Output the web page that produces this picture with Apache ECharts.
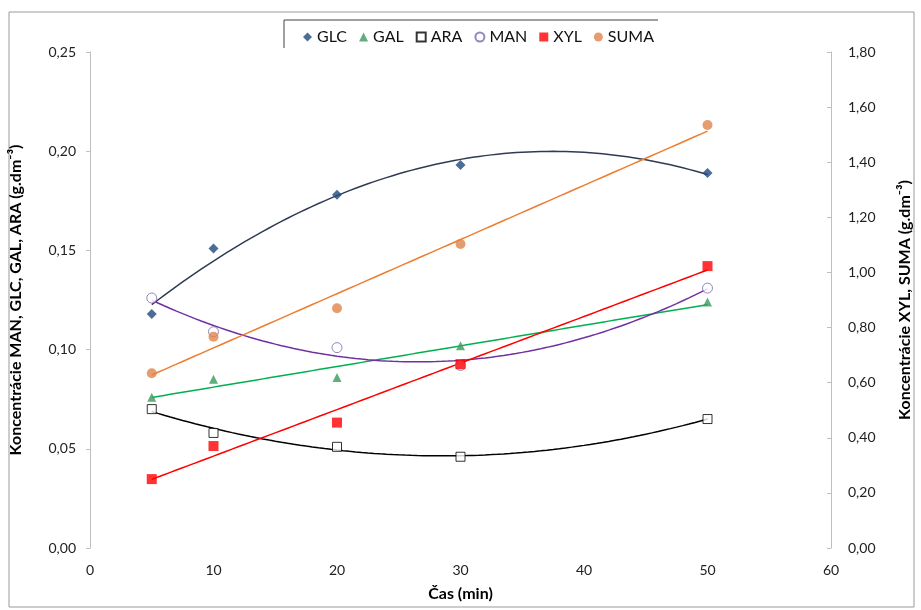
<!DOCTYPE html>
<html>
<head>
<meta charset="utf-8">
<script src="https://cdn.jsdelivr.net/npm/echarts@6/dist/echarts.min.js"></script>
<style>
  html, body { margin: 0; padding: 0; background: #fff; }
  #chart { width: 921px; height: 610px; }
</style>
</head>
<body>
<div id="chart"></div>
<script>
// time points (min)
const times = [5, 10, 20, 30, 50]

// left axis (g.dm-3)
const glc = [0.118, 0.151, 0.178, 0.193, 0.189]
const gal = [0.076, 0.085, 0.086, 0.102, 0.124]
const ara = [0.070, 0.058, 0.051, 0.046, 0.065]
const man = [0.126, 0.109, 0.101, 0.092, 0.131]

// right axis (g.dm-3)
const xyl = [0.25, 0.37, 0.455, 0.667, 1.023]
const suma = [0.634, 0.767, 0.87, 1.103, 1.535]

const fontFamily = 'Lato, "Open Sans", sans-serif'

// least squares polynomial fit (Excel-style trendline)
const polyFit = (xs, ys, order) => {
  const n = order + 1
  const a = []
  for (let i = 0; i < n; i++) {
    a.push(new Array(n + 1).fill(0))
    for (let j = 0; j < n; j++) {
      a[i][j] = xs.reduce((s, x) => s + Math.pow(x, i + j), 0)
    }
    a[i][n] = xs.reduce((s, x, k) => s + ys[k] * Math.pow(x, i), 0)
  }
  // gauss elimination
  for (let i = 0; i < n; i++) {
    for (let k = i + 1; k < n; k++) {
      const f = a[k][i] / a[i][i]
      for (let j = i; j <= n; j++) a[k][j] -= f * a[i][j]
    }
  }
  const c = new Array(n).fill(0)
  for (let i = n - 1; i >= 0; i--) {
    let s = a[i][n]
    for (let j = i + 1; j < n; j++) s -= a[i][j] * c[j]
    c[i] = s / a[i][i]
  }
  return c
}

const trend = (ys, order) => {
  const c = polyFit(times, ys, order)
  const pts = []
  const x0 = times[0]
  const x1 = times[times.length - 1]
  for (let x = x0; x <= x1 + 1e-9; x += 0.5) {
    pts.push([x, c.reduce((s, ci, i) => s + ci * Math.pow(x, i), 0)])
  }
  return pts
}

const pairs = ys => times.map((t, i) => [t, ys[i]])
const comma = v => v.toFixed(2).replace('.', ',')

const lineSeries = (data, color, yAxisIndex) => ({
  type: 'line',
  data,
  yAxisIndex,
  showSymbol: false,
  symbol: 'none',
  silent: true,
  z: 2,
  lineStyle: { color, width: 1.5 },
  animation: false
})

const markSeries = (name, data, symbol, size, itemStyle, yAxisIndex) => ({
  name,
  type: 'scatter',
  data,
  yAxisIndex,
  symbol,
  symbolSize: size,
  itemStyle,
  z: 3,
  animation: false
})

const titleStyle = { fontSize: 16, fontWeight: 'bold', color: '#000', fontFamily }
const tickStyle = { fontSize: 14, color: '#222', fontFamily }

const chart = echarts.init(document.getElementById('chart'))

const option = {
  backgroundColor: '#fff',
  animation: false,
  textStyle: { fontFamily },
  graphic: [
    {
      type: 'rect',
      shape: { x: 9, y: 12, width: 905, height: 595 },
      style: { fill: 'none', stroke: '#9a9a9a', lineWidth: 1 },
      silent: true
    },
    {
      type: 'polyline',
      shape: { points: [[284, 48], [284, 20], [658, 20]] },
      style: { fill: 'none', stroke: '#404040', lineWidth: 1 },
      silent: true,
      z: 10
    }
  ],
  legend: {
    data: ['GLC', 'GAL', 'ARA', 'MAN', 'XYL', 'SUMA'],
    top: 24,
    left: 298,
    itemWidth: 9,
    itemHeight: 9,
    itemGap: 12,
    textStyle: { fontSize: 16, color: '#111', fontFamily }
  },
  grid: {
    left: 90,
    right: 89,
    top: 52,
    bottom: 62
  },
  xAxis: {
    type: 'value',
    min: 0,
    max: 60,
    interval: 10,
    name: 'Čas (min)',
    nameLocation: 'middle',
    nameGap: 38,
    nameTextStyle: titleStyle,
    axisLine: { show: false },
    axisTick: { show: false },
    splitLine: { show: false },
    axisLabel: { ...tickStyle, margin: 15 }
  },
  yAxis: [
    {
      type: 'value',
      min: 0,
      max: 0.25,
      interval: 0.05,
      name: 'Koncentrácie MAN, GLC, GAL, ARA (g.dm⁻³)',
      nameLocation: 'middle',
      nameGap: 66,
      nameTextStyle: titleStyle,
      axisLine: { show: true, lineStyle: { color: '#bfbfbf' } },
      axisTick: { show: true, length: 4, lineStyle: { color: '#bfbfbf' } },
      splitLine: { show: false },
      axisLabel: { ...tickStyle, margin: 14, formatter: comma }
    },
    {
      type: 'value',
      min: 0,
      max: 1.8,
      interval: 0.2,
      name: 'Koncentrácie XYL, SUMA (g.dm⁻³)',
      nameLocation: 'middle',
      nameGap: 66,
      nameRotate: 90,
      nameTextStyle: titleStyle,
      axisLine: { show: true, lineStyle: { color: '#bfbfbf' } },
      axisTick: { show: true, length: 4, inside: true, lineStyle: { color: '#bfbfbf' } },
      splitLine: { show: false },
      axisLabel: { ...tickStyle, margin: 17, formatter: comma }
    }
  ],
  series: [
    lineSeries(trend(glc, 2), '#2f3b52', 0),
    lineSeries(trend(gal, 1), '#00b050', 0),
    lineSeries(trend(ara, 2), '#000000', 0),
    lineSeries(trend(man, 2), '#7030a0', 0),
    lineSeries(trend(xyl, 1), '#ff0000', 1),
    lineSeries(trend(suma, 1), '#ed7d31', 1),
    markSeries('GLC', pairs(glc), 'diamond', 10, { color: '#1f497d' }, 0),
    markSeries('GAL', pairs(gal), 'triangle', 9, { color: '#3a9a5c' }, 0),
    markSeries('ARA', pairs(ara), 'rect', 9, { color: '#fff', borderColor: '#000', borderWidth: 1 }, 0),
    markSeries('MAN', pairs(man), 'circle', 10, { color: '#fff', borderColor: '#7a68b0', borderWidth: 1 }, 0),
    markSeries('XYL', pairs(xyl), 'rect', 10, { color: '#ff0000' }, 1),
    markSeries('SUMA', pairs(suma), 'circle', 10, { color: '#e0844a' }, 1)
  ]
}

chart.setOption(option)
</script>
</body>
</html>
